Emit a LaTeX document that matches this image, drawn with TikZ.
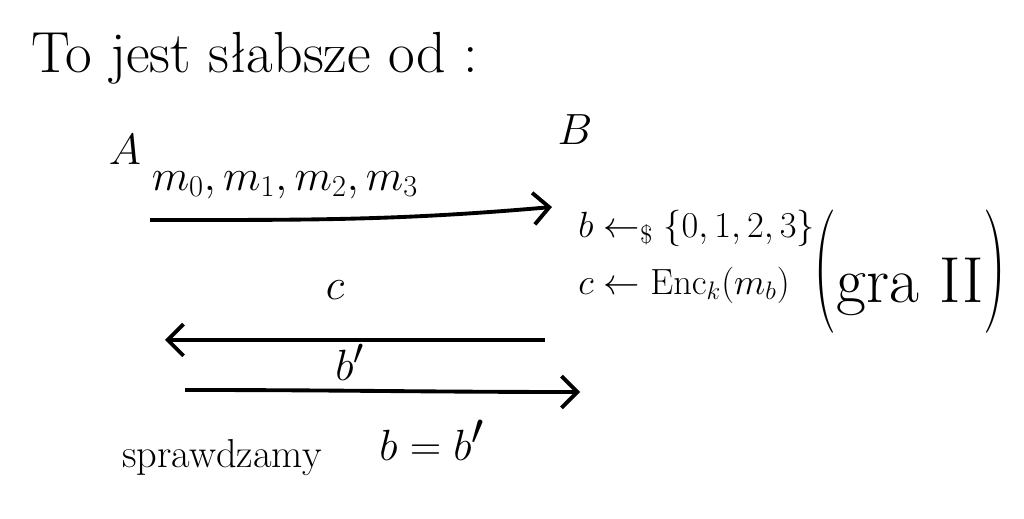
\documentclass[tikz,border=0pt]{standalone}
\usepackage{amssymb}
\usetikzlibrary{arrows.meta}
\begin{document}
\begin{tikzpicture}[x=0.02cm,y=-0.02cm,
  txt/.style={inner sep=0pt, font=\fontsize{30}{34}\selectfont},
  small/.style={inner sep=0pt, font=\fontsize{20}{24}\selectfont},
  big/.style={inner sep=0pt, font=\fontsize{40}{44}\selectfont},
  msg/.style={line width=2.2pt, -{Straight Barb[length=9pt,width=18pt,line width=2.2pt]}}]
\useasboundingbox (0,0) rectangle (1024,519);
\node[inner sep=0pt, font=\fontsize{33}{38}\selectfont] (title) at (255,58) {To jest słabsze od :};
\node[txt] (A) at (125,150) {$A$};
\node[txt] (B) at (575,130) {$B$};
\node[inner sep=0pt, font=\fontsize{27}{30}\selectfont] (msgs) at (285,185) {$m_0, m_1, m_2, m_3$};
\coordinate (a1) at (150,220);
\coordinate (b1) at (552,207);
\draw[msg] (a1) to[out=0,in=185] (b1);
\node[small, anchor=west] (rand) at (578,228) {$b \leftarrow_{\$} \{0,1,2,3\}$};
\node[small, anchor=west] (enc) at (578,285) {$c \leftarrow \mathrm{Enc}_k(m_b)$};
\node[inner sep=0pt, font=\fontsize{37}{42}\selectfont] (gra) at (910,272) {\scalebox{1}[1.9]{(}gra II\scalebox{1}[1.9]{)}};
\node[txt] (c) at (335,290) {$c$};
\coordinate (b2) at (545,340);
\coordinate (a2) at (165,340);
\draw[msg] (b2) -- (a2);
\node[txt] (bp) at (350,362) {$b'$};
\coordinate (a3) at (185,390);
\coordinate (b3) at (580,392);
\draw[msg] (a3) to[out=0,in=180] (b3);
\node[inner sep=0pt, font=\fontsize{23}{26}\selectfont] (spr) at (222,458) {sprawdzamy};
\node[big] (eq) at (432,440) {$b = b'$};
\end{tikzpicture}
\end{document}
